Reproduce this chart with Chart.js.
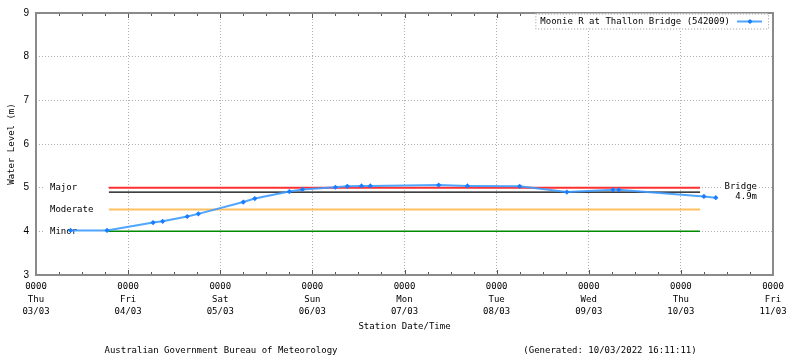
<!DOCTYPE html>
<html><head><meta charset="utf-8">
<script src="https://cdn.jsdelivr.net/npm/chart.js@4/dist/chart.umd.min.js"></script>
<style>html,body{margin:0;padding:0;background:#fff}#wrap{width:800px;height:358px}</style>
</head><body><div id="wrap"><canvas id="c" width="800" height="358"></canvas></div>
<script>
// ---- data ----
const seriesName = 'Moonie R at Thallon Bridge (542009)';
// hours after 03/03 00:00
const obsHours = [9, 18.5, 30.5, 33, 39.4, 42.3, 54, 57, 66, 69.4, 78, 81.1, 84.8, 87.1, 104.9, 112.4, 126, 138.3, 150.3, 151.8, 174, 177.1];
const obsLevels = [4.02, 4.02, 4.2, 4.23, 4.34, 4.4, 4.67, 4.75, 4.91, 4.96, 5.01, 5.03, 5.04, 5.04, 5.06, 5.04, 5.03, 4.9, 4.95, 4.95, 4.8, 4.77];
const tickTime = '0000';
const dayNames = ['Thu','Fri','Sat','Sun','Mon','Tue','Wed','Thu','Fri'];
const dayDates = ['03/03','04/03','05/03','06/03','07/03','08/03','09/03','10/03','11/03'];
const yTickValues = [3,4,5,6,7,8,9];
const thresholdNames = ['Major','Moderate','Minor'];
const thresholdValues = [5.0, 4.5, 4.0];
const thresholdSpan = [19, 173];
const bridgeName = 'Bridge';
const bridgeLevel = 4.9;
const bridgeText = '4.9m';
const xTitle = 'Station Date/Time';
const yTitle = 'Water Level (m)';
const footerLeft = 'Australian Government Bureau of Meteorology';
const footerRight = '(Generated: 10/03/2022 16:11:11)';

// ---- styles ----
const MONO = '"DejaVu Sans Mono", "Liberation Mono", monospace';
const thresholdColors = ['#ff3030', '#ffc060', '#008a00'];
const thresholdWidths = [2, 2, 1.5];
const lineColor = 'rgba(60,155,255,0.9)';
const pointColor = '#1a7cff';

const datasets = [{
  label: seriesName,
  data: obsHours.map((h,i)=>({x:h, y:obsLevels[i]})),
  borderColor: lineColor, backgroundColor: pointColor,
  borderWidth: 2, pointStyle: 'rectRot', pointRadius: 2.6,
  pointBackgroundColor: pointColor, pointBorderColor: pointColor, pointBorderWidth: 0
}];
thresholdNames.forEach((n,i)=>{
  datasets.push({
    label: n,
    data: thresholdSpan.map(h=>({x:h, y:thresholdValues[i]})),
    borderColor: thresholdColors[i], borderWidth: thresholdWidths[i], pointRadius: 0
  });
});
datasets.push({
  label: bridgeName,
  data: thresholdSpan.map(h=>({x:h, y:bridgeLevel})),
  borderColor: '#000', borderWidth: 1.2, pointRadius: 0
});

const decor = {
  id: 'decor',
  beforeDatasetsDraw(chart){
    const {ctx, chartArea:a, scales:{y}} = chart;
    ctx.save();
    ctx.font = '9px ' + MONO;
    ctx.textBaseline = 'middle';
    thresholdNames.forEach((n,i)=>{
      const py = y.getPixelForValue(thresholdValues[i]);
      ctx.fillStyle = '#fff';
      ctx.fillRect(a.left+9, py-5, 63, 10);
      ctx.fillStyle = '#000'; ctx.textAlign = 'left';
      ctx.fillText(n, a.left+14, py);
    });
    const by = y.getPixelForValue(bridgeLevel);
    ctx.fillStyle = '#fff';
    ctx.fillRect(a.right-50, by-10, 36, 20);
    ctx.fillStyle = '#000'; ctx.textAlign = 'right';
    ctx.fillText(bridgeName, a.right-16, by-5);
    ctx.fillText(bridgeText, a.right-16, by+5);
    ctx.restore();
  },
  afterDraw(chart){
    const {ctx, chartArea:a, scales:{x}} = chart;
    ctx.save();
    ctx.strokeStyle = '#555'; ctx.lineWidth = 1;
    for (let h = 0; h <= 192; h += 6) {
      const px = Math.round(x.getPixelForValue(h)) + 0.5;
      const len = (h % 24 === 0) ? 5 : 3;
      ctx.beginPath();
      ctx.moveTo(px, a.bottom); ctx.lineTo(px, a.bottom - len);
      ctx.moveTo(px, a.top); ctx.lineTo(px, a.top + len);
      ctx.stroke();
    }
    ctx.strokeStyle = '#8a8a8a'; ctx.lineWidth = 2;
    ctx.strokeRect(a.left, a.top, a.right - a.left, a.bottom - a.top);
    ctx.font = '9px ' + MONO;
    const tw = ctx.measureText(seriesName).width;
    const right = a.right - 5, top = a.top + 0.5, h = 15;
    const left = right - 30 - 8 - tw - 5;
    ctx.fillStyle = '#fff';
    ctx.fillRect(left, top, right-left, h);
    ctx.setLineDash([1,2]); ctx.strokeStyle = '#999'; ctx.lineWidth = 1;
    ctx.strokeRect(left+0.5, top+0.5, right-left, h);
    ctx.setLineDash([]);
    ctx.fillStyle = '#000'; ctx.textAlign = 'left'; ctx.textBaseline = 'middle';
    ctx.fillText(seriesName, left+5, top + h/2 + 1);
    const ly = top + h/2 + 0.5;
    ctx.strokeStyle = lineColor; ctx.lineWidth = 2;
    ctx.beginPath(); ctx.moveTo(right-31, ly); ctx.lineTo(right-6, ly); ctx.stroke();
    const mx = right-18;
    ctx.fillStyle = pointColor;
    ctx.beginPath(); ctx.moveTo(mx, ly-2.6); ctx.lineTo(mx+2.6, ly); ctx.lineTo(mx, ly+2.6); ctx.lineTo(mx-2.6, ly); ctx.closePath(); ctx.fill();
    ctx.fillStyle = '#000'; ctx.textAlign = 'center';
    ctx.fillText(footerLeft, 221, 351);
    ctx.fillText(footerRight, 610, 351);
    ctx.restore();
  }
};

new Chart(document.getElementById('c'), {
  type: 'line',
  data: { datasets },
  options: {
    responsive: false, animation: false, devicePixelRatio: 1,
    layout: { padding: { left: 0, right: 27, top: 11, bottom: 23 } },
    plugins: { legend: { display: false }, tooltip: { enabled: false } },
    elements: { line: { tension: 0 } },
    scales: {
      x: {
        type: 'linear', min: 0, max: 192,
        afterBuildTicks(s){ s.ticks = dayNames.map((d,i)=>({value: i*24})); },
        ticks: {
          autoSkip: false, maxRotation: 0, padding: 6, color: '#000',
          font: { family: MONO, size: 9, lineHeight: 1.35 },
          callback(v){ const i = Math.round(v/24); return [tickTime, dayNames[i], dayDates[i]]; }
        },
        grid: { color: '#b0b0b0', drawTicks: false },
        border: { display: false, dash: [1,2] },
        title: { display: true, text: xTitle, color: '#000', font: { family: MONO, size: 9 }, padding: { top: 0, bottom: 3 } },
        afterFit(s){ s.height = 60; }
      },
      y: {
        min: 3, max: 9,
        afterBuildTicks(s){ s.ticks = yTickValues.map(v=>({value:v})); },
        ticks: { padding: 7, color: '#000', font: { family: '"Liberation Sans", Arial, sans-serif', size: 10 } },
        grid: { color: '#b0b0b0', drawTicks: false },
        border: { display: false, dash: [1,2] },
        title: { display: true, text: yTitle, color: '#000', font: { family: MONO, size: 9 }, padding: { top: 6, bottom: 0 } },
        afterFit(s){ s.width = 36; }
      }
    }
  },
  plugins: [decor]
});
</script>
</body></html>
